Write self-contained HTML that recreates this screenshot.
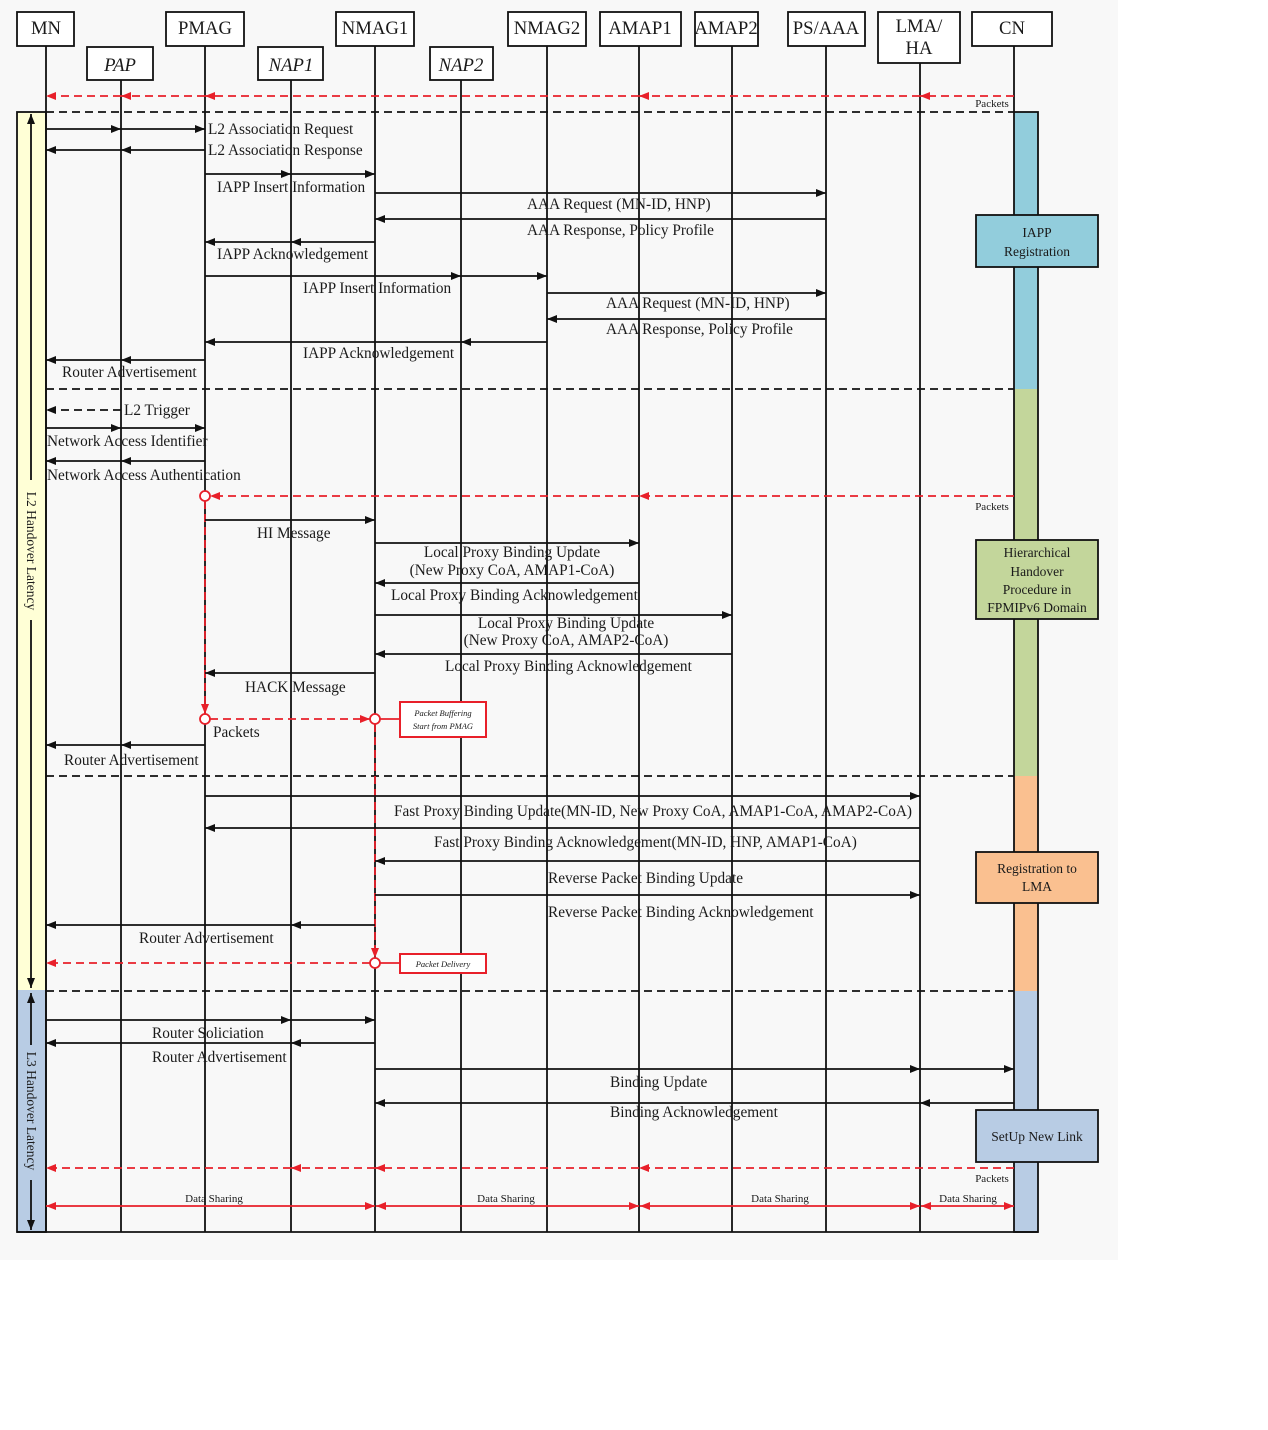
<!DOCTYPE html>
<html><head><meta charset="utf-8"><style>
html,body{margin:0;padding:0;background:#fff;}
svg{display:block;}
text{font-family:"Liberation Serif",serif;fill:#1a1a1a;}
.l{font-size:15.3px;}
.h{font-size:18.7px;}
.s{font-size:11px;}
</style></head><body>
<svg width="1268" height="1430" viewBox="0 0 1268 1430" xmlns="http://www.w3.org/2000/svg">
<defs>
<marker id="a" markerUnits="userSpaceOnUse" markerWidth="11" markerHeight="8" refX="10" refY="4" orient="auto"><path d="M0,0 L10,4 L0,8 z" fill="#111"/></marker>
<marker id="r" markerUnits="userSpaceOnUse" markerWidth="11" markerHeight="8" refX="10" refY="4" orient="auto"><path d="M0,0 L10,4 L0,8 z" fill="#e8202a"/></marker>
<marker id="rs" markerUnits="userSpaceOnUse" markerWidth="11" markerHeight="8" refX="0" refY="4" orient="auto"><path d="M10,0 L0,4 L10,8 z" fill="#e8202a"/></marker>
<marker id="as" markerUnits="userSpaceOnUse" markerWidth="11" markerHeight="8" refX="0" refY="4" orient="auto"><path d="M10,0 L0,4 L10,8 z" fill="#111"/></marker>
</defs>
<rect x="0" y="0" width="1118" height="1260" fill="#f8f8f8"/>

<rect x="17" y="112" width="29" height="878" fill="#ffffd6"/>
<rect x="17" y="990" width="29" height="242" fill="#b8cce4"/>
<rect x="17" y="112" width="29" height="1120" fill="none" stroke="#111" stroke-width="1.8"/>
<line x1="31" y1="988" x2="31" y2="114" stroke="#111" stroke-width="1.8" marker-end="url(#a)" marker-start="url(#as)"/>
<line x1="31" y1="1230" x2="31" y2="993" stroke="#111" stroke-width="1.8" marker-end="url(#a)" marker-start="url(#as)"/>
<rect x="24" y="480" width="14" height="140" fill="#ffffd6"/>
<text transform="translate(27,551) rotate(90)" text-anchor="middle" font-size="13.5">L2 Handover Latency</text>
<rect x="24" y="1045" width="14" height="135" fill="#b8cce4"/>
<text transform="translate(27,1111) rotate(90)" text-anchor="middle" font-size="13.5">L3 Handover Latency</text>

<rect x="1014" y="112" width="24" height="277" fill="#92cddc"/>
<rect x="1014" y="389" width="24" height="387" fill="#c3d69b"/>
<rect x="1014" y="776" width="24" height="215" fill="#fac090"/>
<rect x="1014" y="991" width="24" height="241" fill="#b8cce4"/>
<rect x="1014" y="112" width="24" height="1120" fill="none" stroke="#111" stroke-width="1.8"/>
<line x1="17" y1="1232" x2="1038" y2="1232" stroke="#111" stroke-width="1.8"/>

<g fill="#fff" stroke="#111" stroke-width="1.8">
<rect x="17" y="12" width="57" height="34"/>
<rect x="87" y="47" width="66" height="33"/>
<rect x="166" y="12" width="78" height="34"/>
<rect x="258" y="47" width="65" height="33"/>
<rect x="336" y="12" width="78" height="34"/>
<rect x="430" y="47" width="63" height="33"/>
<rect x="508" y="12" width="78" height="34"/>
<rect x="600" y="12" width="81" height="34"/>
<rect x="695" y="12" width="63" height="34"/>
<rect x="788" y="12" width="77" height="34"/>
<rect x="878" y="12" width="82" height="51"/>
<rect x="972" y="12" width="80" height="34"/>
</g>
<g text-anchor="middle">
<text class="h" x="46" y="34">MN</text>
<text class="h" x="120" y="71" font-style="italic" font-size="20">PAP</text>
<text class="h" x="205" y="34">PMAG</text>
<text class="h" x="291" y="71" font-style="italic" font-size="20">NAP1</text>
<text class="h" x="375" y="34">NMAG1</text>
<text class="h" x="461" y="71" font-style="italic" font-size="20">NAP2</text>
<text class="h" x="547" y="34">NMAG2</text>
<text class="h" x="640" y="34">AMAP1</text>
<text class="h" x="726" y="34">AMAP2</text>
<text class="h" x="826" y="34">PS/AAA</text>
<text class="h" x="919" y="32">LMA/</text>
<text class="h" x="919" y="54">HA</text>
<text class="h" x="1012" y="34">CN</text>
</g>

<g stroke="#111" stroke-width="1.8">
<line x1="46" y1="46" x2="46" y2="1232"/>
<line x1="121" y1="80" x2="121" y2="1232"/>
<line x1="205" y1="46" x2="205" y2="1232"/>
<line x1="291" y1="80" x2="291" y2="1232"/>
<line x1="375" y1="46" x2="375" y2="1232"/>
<line x1="461" y1="80" x2="461" y2="1232"/>
<line x1="547" y1="46" x2="547" y2="1232"/>
<line x1="639" y1="46" x2="639" y2="1232"/>
<line x1="732" y1="46" x2="732" y2="1232"/>
<line x1="826" y1="46" x2="826" y2="1232"/>
<line x1="920" y1="63" x2="920" y2="1232"/>
<line x1="1014" y1="46" x2="1014" y2="112"/>
</g>

<g stroke="#111" stroke-width="1.8" stroke-dasharray="8,5">
<line x1="46" y1="112" x2="1014" y2="112"/>
<line x1="46" y1="389" x2="1014" y2="389"/>
<line x1="46" y1="776" x2="1014" y2="776"/>
<line x1="46" y1="991" x2="1014" y2="991"/>
</g>

<g stroke="#111" stroke-width="1.8">
<rect x="976" y="215" width="122" height="52" fill="#92cddc"/>
<rect x="976" y="540" width="122" height="79" fill="#c3d69b"/>
<rect x="976" y="852" width="122" height="51" fill="#fac090"/>
<rect x="976" y="1110" width="122" height="52" fill="#b8cce4"/>
</g>
<g text-anchor="middle" font-size="13.5">
<text x="1037" y="237">IAPP</text><text x="1037" y="256">Registration</text>
<text x="1037" y="557">Hierarchical</text><text x="1037" y="576">Handover</text><text x="1037" y="594">Procedure in</text><text x="1037" y="612">FPMIPv6 Domain</text>
<text x="1037" y="873">Registration to</text><text x="1037" y="891">LMA</text>
<text x="1037" y="1141">SetUp New Link</text>
</g>

<g stroke="#e8202a" stroke-width="1.8" stroke-dasharray="8,5" fill="none">
<line x1="1014" y1="96" x2="920" y2="96" marker-end="url(#r)"/>
<line x1="920" y1="96" x2="639" y2="96" marker-end="url(#r)"/>
<line x1="639" y1="96" x2="205" y2="96" marker-end="url(#r)"/>
<line x1="205" y1="96" x2="121" y2="96" marker-end="url(#r)"/>
<line x1="121" y1="96" x2="46" y2="96" marker-end="url(#r)"/>
<line x1="1014" y1="496" x2="639" y2="496" marker-end="url(#r)"/>
<line x1="639" y1="496" x2="210" y2="496" marker-end="url(#r)"/>
<line x1="205" y1="501" x2="205" y2="714" marker-end="url(#r)"/>
<line x1="210" y1="719" x2="370" y2="719" marker-end="url(#r)"/>
<line x1="375" y1="724" x2="375" y2="958" marker-end="url(#r)"/>
<line x1="370" y1="963" x2="46" y2="963" marker-end="url(#r)"/>
<line x1="1014" y1="1168" x2="639" y2="1168" marker-end="url(#r)"/>
<line x1="639" y1="1168" x2="375" y2="1168" marker-end="url(#r)"/>
<line x1="375" y1="1168" x2="291" y2="1168" marker-end="url(#r)"/>
<line x1="291" y1="1168" x2="46" y2="1168" marker-end="url(#r)"/>
</g>
<g stroke="#e8202a" stroke-width="1.8" fill="#fff">
<circle cx="205" cy="496" r="5"/>
<circle cx="205" cy="719" r="5"/>
<circle cx="375" cy="719" r="5"/>
<circle cx="375" cy="963" r="5"/>
<line x1="380" y1="719" x2="400" y2="719"/>
<line x1="380" y1="963" x2="400" y2="963"/>
<rect x="400" y="702" width="86" height="35" stroke-width="2"/>
<rect x="400" y="954" width="86" height="19" stroke-width="2"/>
</g>
<g font-style="italic" text-anchor="middle">
<text x="443" y="716" font-size="8.5">Packet Buffering</text>
<text x="443" y="729" font-size="8.5">Start from PMAG</text>
<text x="443" y="967" font-size="8.5">Packet Delivery</text>
</g>
<g stroke="#e8202a" stroke-width="1.8">
<line x1="46" y1="1206" x2="375" y2="1206" marker-start="url(#rs)" marker-end="url(#r)"/>
<line x1="376" y1="1206" x2="639" y2="1206" marker-start="url(#rs)" marker-end="url(#r)"/>
<line x1="640" y1="1206" x2="920" y2="1206" marker-start="url(#rs)" marker-end="url(#r)"/>
<line x1="921" y1="1206" x2="1014" y2="1206" marker-start="url(#rs)" marker-end="url(#r)"/>
</g>
<g text-anchor="middle">
<text x="214" y="1202" class="s">Data Sharing</text>
<text x="506" y="1202" class="s">Data Sharing</text>
<text x="780" y="1202" class="s">Data Sharing</text>
<text x="968" y="1202" class="s">Data Sharing</text>
<text x="992" y="107" class="s">Packets</text>
<text x="992" y="510" class="s">Packets</text>
<text x="992" y="1182" class="s">Packets</text>
</g>

<g stroke="#111" stroke-width="1.8" fill="none">
<line x1="46" y1="129" x2="121" y2="129" marker-end="url(#a)"/>
<line x1="121" y1="129" x2="205" y2="129" marker-end="url(#a)"/>
<line x1="205" y1="150" x2="121" y2="150" marker-end="url(#a)"/>
<line x1="121" y1="150" x2="46" y2="150" marker-end="url(#a)"/>
<line x1="205" y1="174" x2="291" y2="174" marker-end="url(#a)"/>
<line x1="291" y1="174" x2="375" y2="174" marker-end="url(#a)"/>
<line x1="375" y1="193" x2="826" y2="193" marker-end="url(#a)"/>
<line x1="826" y1="219" x2="375" y2="219" marker-end="url(#a)"/>
<line x1="375" y1="242" x2="291" y2="242" marker-end="url(#a)"/>
<line x1="291" y1="242" x2="205" y2="242" marker-end="url(#a)"/>
<line x1="205" y1="276" x2="461" y2="276" marker-end="url(#a)"/>
<line x1="461" y1="276" x2="547" y2="276" marker-end="url(#a)"/>
<line x1="547" y1="293" x2="826" y2="293" marker-end="url(#a)"/>
<line x1="826" y1="319" x2="547" y2="319" marker-end="url(#a)"/>
<line x1="547" y1="342" x2="461" y2="342" marker-end="url(#a)"/>
<line x1="461" y1="342" x2="205" y2="342" marker-end="url(#a)"/>
<line x1="205" y1="360" x2="121" y2="360" marker-end="url(#a)"/>
<line x1="121" y1="360" x2="46" y2="360" marker-end="url(#a)"/>
<line x1="121" y1="410" x2="46" y2="410" marker-end="url(#a)" stroke-dasharray="8,5"/>
<line x1="46" y1="428" x2="121" y2="428" marker-end="url(#a)"/>
<line x1="121" y1="428" x2="205" y2="428" marker-end="url(#a)"/>
<line x1="205" y1="461" x2="121" y2="461" marker-end="url(#a)"/>
<line x1="121" y1="461" x2="46" y2="461" marker-end="url(#a)"/>
<line x1="205" y1="520" x2="375" y2="520" marker-end="url(#a)"/>
<line x1="375" y1="543" x2="639" y2="543" marker-end="url(#a)"/>
<line x1="639" y1="583" x2="375" y2="583" marker-end="url(#a)"/>
<line x1="375" y1="615" x2="732" y2="615" marker-end="url(#a)"/>
<line x1="732" y1="654" x2="375" y2="654" marker-end="url(#a)"/>
<line x1="375" y1="673" x2="205" y2="673" marker-end="url(#a)"/>
<line x1="205" y1="745" x2="121" y2="745" marker-end="url(#a)"/>
<line x1="121" y1="745" x2="46" y2="745" marker-end="url(#a)"/>
<line x1="205" y1="796" x2="920" y2="796" marker-end="url(#a)"/>
<line x1="920" y1="828" x2="205" y2="828" marker-end="url(#a)"/>
<line x1="920" y1="861" x2="375" y2="861" marker-end="url(#a)"/>
<line x1="375" y1="895" x2="920" y2="895" marker-end="url(#a)"/>
<line x1="375" y1="925" x2="291" y2="925" marker-end="url(#a)"/>
<line x1="291" y1="925" x2="46" y2="925" marker-end="url(#a)"/>
<line x1="46" y1="1020" x2="291" y2="1020" marker-end="url(#a)"/>
<line x1="291" y1="1020" x2="375" y2="1020" marker-end="url(#a)"/>
<line x1="375" y1="1043" x2="291" y2="1043" marker-end="url(#a)"/>
<line x1="291" y1="1043" x2="46" y2="1043" marker-end="url(#a)"/>
<line x1="375" y1="1069" x2="920" y2="1069" marker-end="url(#a)"/>
<line x1="920" y1="1069" x2="1014" y2="1069" marker-end="url(#a)"/>
<line x1="1014" y1="1103" x2="920" y2="1103" marker-end="url(#a)"/>
<line x1="920" y1="1103" x2="375" y2="1103" marker-end="url(#a)"/>
</g>

<g>
<text class="l" x="208" y="134">L2 Association Request</text>
<text class="l" x="208" y="155">L2 Association Response</text>
<text class="l" x="217" y="192">IAPP Insert Information</text>
<text class="l" x="527" y="209">AAA Request (MN-ID, HNP)</text>
<text class="l" x="527" y="235">AAA Response, Policy Profile</text>
<text class="l" x="217" y="259">IAPP Acknowledgement</text>
<text class="l" x="303" y="293">IAPP Insert Information</text>
<text class="l" x="606" y="308">AAA Request (MN-ID, HNP)</text>
<text class="l" x="606" y="334">AAA Response, Policy Profile</text>
<text class="l" x="303" y="358">IAPP Acknowledgement</text>
<text class="l" x="62" y="377">Router Advertisement</text>
<text class="l" x="124" y="415">L2 Trigger</text>
<text class="l" x="47" y="446">Network Access Identifier</text>
<text class="l" x="47" y="480">Network Access Authentication</text>
<text class="l" x="257" y="538">HI Message</text>
<text class="l" x="512" y="557" text-anchor="middle">Local Proxy Binding Update</text>
<text class="l" x="512" y="575" text-anchor="middle">(New Proxy CoA, AMAP1-CoA)</text>
<text class="l" x="391" y="600">Local Proxy Binding Acknowledgement</text>
<text class="l" x="566" y="628" text-anchor="middle">Local Proxy Binding Update</text>
<text class="l" x="566" y="645" text-anchor="middle">(New Proxy CoA, AMAP2-CoA)</text>
<text class="l" x="445" y="671">Local Proxy Binding Acknowledgement</text>
<text class="l" x="245" y="692">HACK Message</text>
<text class="l" x="213" y="737">Packets</text>
<text class="l" x="64" y="765">Router Advertisement</text>
<text class="l" x="394" y="816">Fast Proxy Binding Update(MN-ID, New Proxy CoA, AMAP1-CoA, AMAP2-CoA)</text>
<text class="l" x="434" y="847">Fast Proxy Binding Acknowledgement(MN-ID, HNP, AMAP1-CoA)</text>
<text class="l" x="548" y="883">Reverse Packet Binding Update</text>
<text class="l" x="548" y="917">Reverse Packet Binding Acknowledgement</text>
<text class="l" x="139" y="943">Router Advertisement</text>
<text class="l" x="152" y="1038">Router Soliciation</text>
<text class="l" x="152" y="1062">Router Advertisement</text>
<text class="l" x="610" y="1087">Binding Update</text>
<text class="l" x="610" y="1117">Binding Acknowledgement</text>
</g>
</svg>
</body></html>
